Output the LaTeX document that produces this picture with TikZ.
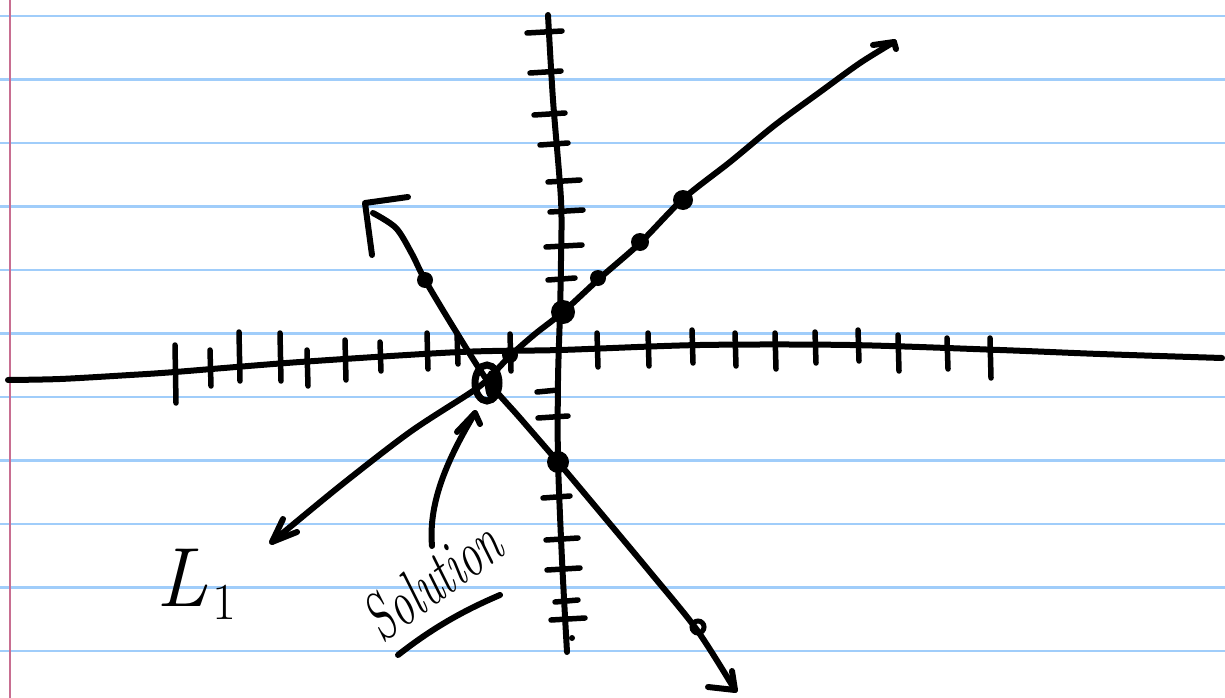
\documentclass[tikz,border=0pt]{standalone}
\usepackage{graphicx}
\definecolor{ruled}{RGB}{160,205,250}
\definecolor{marginred}{RGB}{200,110,145}
\tikzset{ink/.style={line width=6pt, line cap=round, line join=round},
  tickmark/.style={line width=5.5pt, line cap=round},
  dotmark/.style={fill=black}}
\begin{document}
\begin{tikzpicture}[x=1pt,y=-1pt]
\fill[white] (0,0) rectangle (1225,698);
\useasboundingbox (0,0) rectangle (1225,698);
% ruled paper
\foreach \y in {16,79.5,143,206.5,270,333.5,397,460.5,524,587.5,651}
  \draw[ruled, line width=2.5pt] (0,\y) -- (1225,\y);
\draw[marginred, line width=2.5pt] (10,0) -- (10,698);
% x axis
\draw[ink] plot[smooth] coordinates {(8,380) (60,379) (130,375) (175,372) (300,362) (460,352) (560,350) (700,345) (850,345) (1000,350) (1100,354) (1222,358)};
% y axis
\draw[ink] plot[smooth] coordinates {(548,15) (553,100) (561,200) (561,260) (560,312) (558,380) (558,460) (562,560) (567,652)};
% x ticks
\foreach \x/\a/\b in {175/345/403, 210/350/386, 239/332/381, 280/333/381, 307/350/386, 345/340/380, 380/342/371, 427/333/369, 457/333/364, 510/334/371,
  597/333/367, 648/333/366, 692/330/363, 735/333/366, 775/333/369, 815/332/363, 858/330/361, 898/335/371, 947/338/369, 990/338/378}
  \draw[tickmark] (\x,\a) -- (\x+1,\b);
% y ticks
\foreach \y/\a/\b in {33/527/562, 73/530/561, 115/534/565, 145/540/568, 182/548/580, 212/550/583, 247/546/582, 280/548/575,
  392/537/558, 418/538/568, 498/543/570, 540/546/578, 570/547/580, 602/555/578, 620/551/585}
  \draw[tickmark] (\a,\y) -- (\b,\y-2);
\fill (572,638) circle (3);
% line L1 (increasing)
\coordinate (l1a) at (272,542);
\coordinate (l1b) at (894,42);
\draw[ink] plot[smooth] coordinates {(l1a) (340,486) (410,432) (470,393) (487,380) (510,356) (535,334) (563,312) (600,278) (640,243) (683,199) (730,162) (775,125) (820,92) (860,63) (l1b)};
\draw[ink] (283,519) -- (l1a) -- (297,532);
\draw[ink] (873,45) -- (l1b) -- (896,49);
% line L2 (decreasing)
\coordinate (l2a) at (365,203);
\coordinate (l2b) at (735,690);
\draw[ink] plot[smooth] coordinates {(373,213) (396,228) (412,254) (425,280) (455,330) (487,380) (520,418) (558,462) (600,512) (650,572) (697,630) (l2b)};
\draw[ink] (408,197) -- (l2a) -- (372,255);
\draw[ink] (708,687) -- (l2b) -- (732,671);
% dots
\fill[dotmark] (563,312) circle (12);
\fill[dotmark] (558,462) circle (11);
\fill[dotmark] (683,200) circle (10);
\fill[dotmark] (640,242) circle (9);
\fill[dotmark] (598,278) circle (8);
\fill[dotmark] (425,280) circle (8);
\fill[dotmark] (510,355) circle (8);
\draw[line width=5pt] (698,627) circle (6);
% solution circle
\draw[line width=7pt] (487,383) ellipse (12 and 18);
\fill (492,385) ellipse (7 and 15);
% solution arrow
\coordinate (sa) at (475,413);
\draw[ink] (432,546) .. controls (428,500) and (450,455) .. (sa);
\draw[ink] (457,432) -- (sa) -- (480,424);
% labels
\node[rotate=36, font=\fontsize{44}{50}\selectfont\itshape] (sol) at (432,580) {\scalebox{1}[1.5]{Solution}};
\draw[ink] (398,655) .. controls (430,630) and (460,612) .. (500,595);
\node[font=\fontsize{84}{88}\selectfont\itshape, inner sep=0pt] (l1lab) at (182,578) {L};
\node[font=\fontsize{52}{56}\selectfont, inner sep=0pt] (l1sub) at (224,602) {1};
\end{tikzpicture}
\end{document}
